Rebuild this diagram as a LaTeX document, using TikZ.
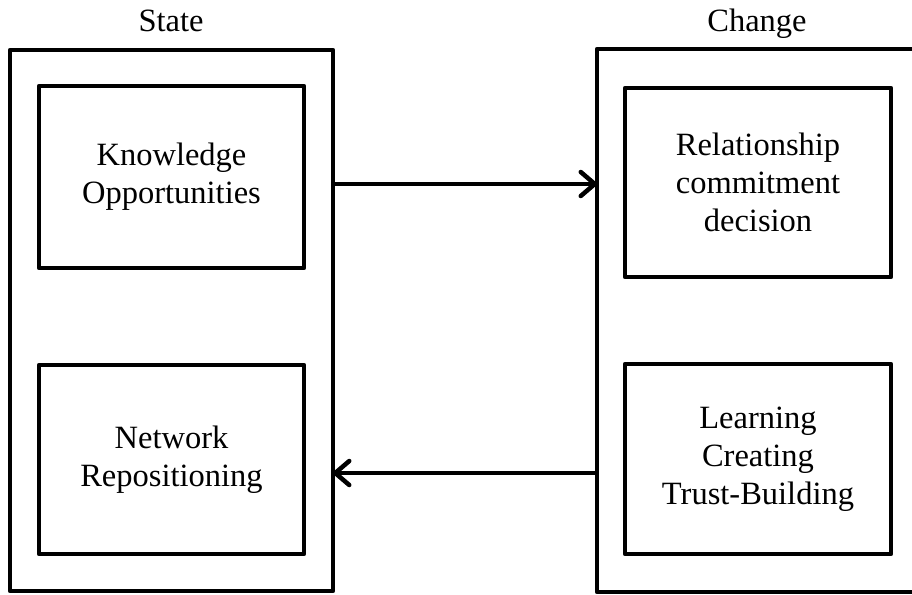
\documentclass[tikz,border=0pt]{standalone}
\usepackage{fontspec}
\setmainfont{Liberation Serif}
\usetikzlibrary{arrows.meta}
\begin{document}
\begin{tikzpicture}[x=1pt,y=-1pt,
  box/.style={draw=black, line width=4.5pt, line join=round, inner sep=0pt, outer sep=0pt,
    align=center, font=\fontsize{32.5}{38}\selectfont},
  lbl/.style={inner sep=0pt, anchor=base, font=\fontsize{32.5}{38}\selectfont},
  arr/.style={line width=4.5pt, -{Straight Barb[length=14pt, width=24pt, line cap=round, line join=round]}}]
\clip (0,0) rectangle (912,594);
\useasboundingbox (0,0) rectangle (912,594);
\node[box, minimum width=323pt, minimum height=541pt] (lo) at (171.5,320.5) {};
\node[box, minimum width=265pt, minimum height=182pt] (lt) at (171.5,177) {Knowledge\\Opportunities};
\node[box, minimum width=265pt, minimum height=189pt] (lb) at (171.5,459.5) {Network\\Repositioning};
\node[box, minimum width=325pt, minimum height=543pt] (ro) at (759.5,320.5) {};
\node[box, minimum width=266pt, minimum height=189pt] (rt) at (758,182.5) {Relationship\\commitment\\decision};
\node[box, minimum width=266pt, minimum height=190pt] (rb) at (758,459) {Learning\\Creating\\Trust-Building};
\node[lbl] (state) at (171,32) {State};
\node[lbl] (change) at (757,32) {Change};
\draw[arr] (lo.east |- 0,184) -- (ro.west |- 0,184);
\draw[arr] (ro.west |- 0,473) -- (lo.east |- 0,473);
\end{tikzpicture}
\end{document}
